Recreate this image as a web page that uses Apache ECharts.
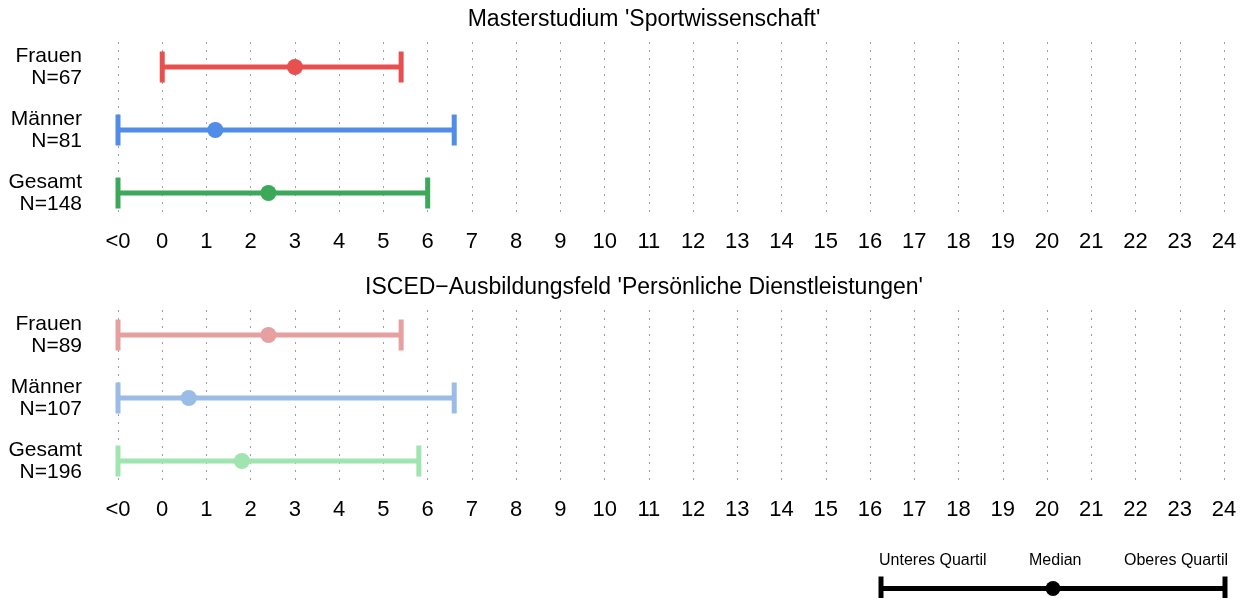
<!DOCTYPE html>
<html>
<head>
<meta charset="utf-8">
<script src="https://cdn.jsdelivr.net/npm/echarts@6/dist/echarts.min.js"></script>
<style>
  html, body { margin: 0; padding: 0; background: #fff; }
  #main { width: 1250px; height: 598px; }
</style>
</head>
<body>
<div id="main"></div>
<script>
// Daten
const rowNames = ['Frauen', 'Männer', 'Gesamt'];
const tickValues = [-1, 0, 1, 2, 3, 4, 5, 6, 7, 8, 9, 10, 11, 12, 13, 14, 15, 16, 17, 18, 19, 20, 21, 22, 23, 24];
const tickLabels = ['<0', '0', '1', '2', '3', '4', '5', '6', '7', '8', '9', '10', '11', '12',
  '13', '14', '15', '16', '17', '18', '19', '20', '21', '22', '23', '24'];

// Masterstudium 'Sportwissenschaft'
const nSport = [67, 81, 148];
const q1Sport = [0, -1, -1];
const medSport = [3, 1.2, 2.4];
const q3Sport = [5.4, 6.6, 6];

// ISCED-Ausbildungsfeld
const nIsced = [89, 107, 196];
const q1Isced = [-1, -1, -1];
const medIsced = [2.4, 0.6, 1.8];
const q3Isced = [5.4, 6.6, 5.8];

const colorsSport = ['#E8504F', '#508CE8', '#3CA85A'];
const colorsIsced = ['#E6A0A0', '#9BBCE6', '#A0E4B0'];

const FONT = 'Liberation Sans, Arial, Helvetica, sans-serif';

function renderRange(params, api) {
  const y = api.value(0);
  const a = api.coord([api.value(1), y]);
  const m = api.coord([api.value(2), y]);
  const b = api.coord([api.value(3), y]);
  const color = api.visual('color');
  const capH = params.seriesName === 'legend' ? 12 : 15.5;
  const r = params.seriesName === 'legend' ? 7.5 : 8;
  return {
    type: 'group',
    children: [
      { type: 'line', shape: { x1: a[0], y1: a[1], x2: b[0], y2: b[1] }, style: { stroke: color, lineWidth: 5 } },
      { type: 'line', shape: { x1: a[0], y1: a[1] - capH, x2: a[0], y2: a[1] + capH }, style: { stroke: color, lineWidth: 5 } },
      { type: 'line', shape: { x1: b[0], y1: b[1] - capH, x2: b[0], y2: b[1] + capH }, style: { stroke: color, lineWidth: 5 } },
      { type: 'circle', shape: { cx: m[0], cy: m[1], r: r }, style: { fill: color } }
    ]
  };
}

function buildData(q1, med, q3, colors) {
  let out = [];
  for (let i = 0; i < rowNames.length; i++) {
    out.push({ value: [i, q1[i], med[i], q3[i]], itemStyle: { color: colors[i] } });
  }
  return out;
}

function xAxisFor(idx) {
  return {
    type: 'value',
    gridIndex: idx,
    min: -1,
    max: 24,
    interval: 1,
    axisLine: { show: false },
    axisTick: { show: false },
    axisLabel: {
      fontSize: 22,
      color: '#000',
      fontFamily: FONT,
      margin: 15,
      formatter: function (v) { return tickLabels[tickValues.indexOf(v)]; }
    },
    splitLine: { show: true, lineStyle: { color: '#a0a0a0', width: 1, type: [2, 6] } }
  };
}

function yAxisFor(idx, n) {
  return {
    type: 'value',
    gridIndex: idx,
    inverse: true,
    min: -0.397,
    max: 2.365,
    axisLine: { show: false },
    axisTick: { show: false },
    splitLine: { show: false },
    axisLabel: {
      customValues: [0, 1, 2],
      fontSize: 21,
      lineHeight: 22,
      color: '#000',
      fontFamily: FONT,
      margin: 36,
      align: 'right',
      formatter: function (v) { return rowNames[v] + '\nN=' + n[v]; }
    }
  };
}

let chart = echarts.init(document.getElementById('main'));

let option = {
  animation: false,
  backgroundColor: '#fff',
  title: [
    {
      text: "Masterstudium 'Sportwissenschaft'",
      left: 644, top: 8, padding: 0, textAlign: 'center',
      textStyle: { fontSize: 23, fontWeight: 'normal', color: '#000', fontFamily: FONT }
    },
    {
      text: "ISCED\u2212Ausbildungsfeld 'Persönliche Dienstleistungen'",
      left: 644, top: 276, padding: 0, textAlign: 'center',
      textStyle: { fontSize: 23, fontWeight: 'normal', color: '#000', fontFamily: FONT }
    }
  ],
  grid: [
    { left: 118, right: 26, top: 42, height: 174 },
    { left: 118, right: 26, top: 310, height: 174 },
    { left: 881, width: 344, top: 579, height: 22 }
  ],
  xAxis: [
    xAxisFor(0),
    xAxisFor(1),
    { type: 'value', gridIndex: 2, min: 0, max: 1, show: false }
  ],
  yAxis: [
    yAxisFor(0, nSport),
    yAxisFor(1, nIsced),
    { type: 'value', gridIndex: 2, min: -1, max: 1, show: false }
  ],
  graphic: [
    { type: 'text', left: 879, top: 553, style: { text: 'Unteres Quartil', fill: '#000', font: '16px ' + FONT } },
    { type: 'text', left: 1029, top: 553, style: { text: 'Median', fill: '#000', font: '16px ' + FONT } },
    { type: 'text', right: 22, top: 553, style: { text: 'Oberes Quartil', fill: '#000', font: '16px ' + FONT } }
  ],
  series: [
    {
      name: 'sport', type: 'custom', xAxisIndex: 0, yAxisIndex: 0,
      renderItem: renderRange, encode: { x: [1, 2, 3], y: 0 },
      data: buildData(q1Sport, medSport, q3Sport, colorsSport)
    },
    {
      name: 'isced', type: 'custom', xAxisIndex: 1, yAxisIndex: 1,
      renderItem: renderRange, encode: { x: [1, 2, 3], y: 0 },
      data: buildData(q1Isced, medIsced, q3Isced, colorsIsced)
    },
    {
      name: 'legend', type: 'custom', xAxisIndex: 2, yAxisIndex: 2,
      renderItem: renderRange, encode: { x: [1, 2, 3], y: 0 },
      data: [{ value: [0, 0, 0.5, 1], itemStyle: { color: '#000' } }]
    }
  ]
};

chart.setOption(option);
window.addEventListener('resize', () => { chart.resize(); });
</script>
</body>
</html>
